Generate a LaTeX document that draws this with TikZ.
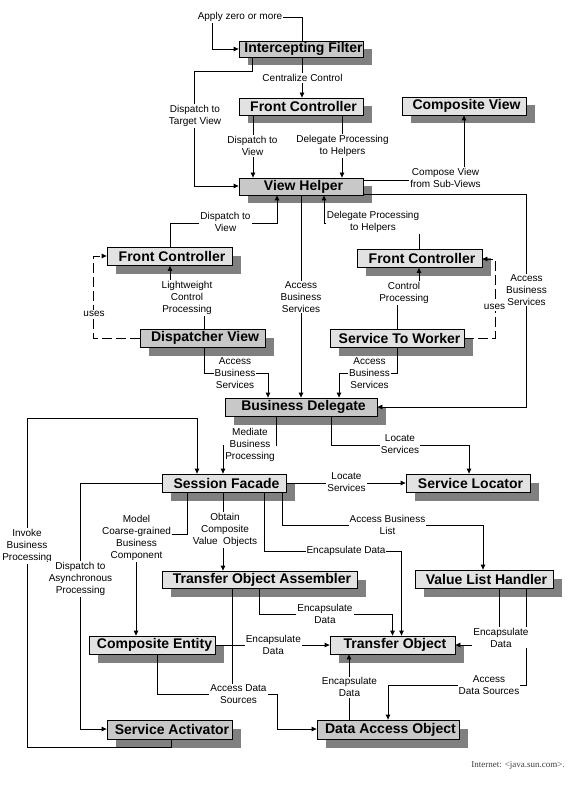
\documentclass[tikz,border=0pt]{standalone}
\usepackage{fontspec}
\setmainfont{Liberation Sans}
\newfontfamily\footfont{Liberation Serif}
\usetikzlibrary{shadows,arrows.meta}
\definecolor{boxlight}{HTML}{E2E2E2}
\definecolor{boxdark}{HTML}{C8C8C8}
\definecolor{shgray}{HTML}{808080}
\begin{document}
\begin{tikzpicture}[x=1pt,y=-1pt,
 pbox/.style={draw=black, line width=0.8pt, fill=boxlight, inner sep=0pt,
   font=\fontsize{14}{16}\selectfont\bfseries,
   drop shadow={shadow xshift=8.5pt,shadow yshift=-8.5pt,fill=shgray,opacity=1}},
 dbox/.style={pbox, fill=boxdark},
 conn/.style={line width=0.8pt, -{Triangle[length=5pt,width=4.5pt]}},
 plainline/.style={line width=0.8pt},
 usesline/.style={conn, dash pattern=on 10pt off 4pt},
 lbl/.style={fill=white, inner sep=1pt, align=center, font=\fontsize{10}{12}\selectfont}
]
\useasboundingbox (0,0) rectangle (586,791);
\fill[white] (0,0) rectangle (586,791);

% ---------- boxes ----------
\node[dbox, minimum width=124pt, minimum height=16pt] (IF)  at (301,49)    {\hspace*{5pt}Intercepting Filter};
\node[pbox, minimum width=124pt, minimum height=17pt] (FC1) at (301,106.5) {\hspace*{5pt}Front Controller};
\node[pbox, minimum width=124pt, minimum height=18pt] (CV)  at (464,106)   {\hspace*{5pt}Composite View};
\node[dbox, minimum width=124pt, minimum height=17pt] (VH)  at (301,186.5) {\hspace*{5pt}View Helper};
\node[pbox, minimum width=125pt, minimum height=18pt] (FC2) at (169.5,256.5) {\hspace*{5pt}Front Controller};
\node[dbox, minimum width=125pt, minimum height=18pt] (DV)  at (202.5,338) {\hspace*{5pt}Dispatcher View};
\node[pbox, minimum width=125pt, minimum height=18pt] (FC3) at (419.5,258.5) {\hspace*{5pt}Front Controller};
\node[pbox, minimum width=134pt, minimum height=18pt] (StW) at (397,338)   {\hspace*{5pt}Service To Worker};
\node[dbox, minimum width=152pt, minimum height=18pt] (BD)  at (301,407)   {\hspace*{5pt}Business Delegate};
\node[pbox, minimum width=124pt, minimum height=18pt] (SF)  at (224,483)   {\hspace*{5pt}Session Facade};
\node[pbox, minimum width=124pt, minimum height=18pt] (SL)  at (468,483)   {\hspace*{5pt}Service Locator};
\node[pbox, minimum width=195pt, minimum height=17pt] (TOA) at (259.5,579.5) {\hspace*{5pt}Transfer Object Assembler};
\node[pbox, minimum width=138pt, minimum height=18pt] (VLH) at (484,579)   {\hspace*{5pt}Value List Handler};
\node[pbox, minimum width=126pt, minimum height=18pt] (CE)  at (152,645)   {\hspace*{5pt}Composite Entity};
\node[pbox, minimum width=125pt, minimum height=18pt] (TO)  at (392.5,645) {\hspace*{5pt}Transfer Object};
\node[dbox, minimum width=125pt, minimum height=19pt] (SA)  at (169.5,729.5) {\hspace*{5pt}Service Activator};
\node[dbox, minimum width=142pt, minimum height=19pt] (DAO) at (388,729.5) {\hspace*{5pt}Data Access Object};

% ---------- connectors ----------
\draw[conn] (IF.north -| 302,0) -- (302,17) -- (212,17) -- (212,49) -- (IF.west);
\draw[conn] (IF.south -| 302,0) -- (FC1.north -| 302,0);
\draw[conn] (IF.south -| 252,0) -- (252,71) -- (194,71) -- (194,186) -- (VH.west |- 0,186);
\draw[conn] (FC1.south -| 253,0) -- (VH.north -| 253,0);
\draw[conn] (FC1.south -| 342,0) -- (VH.north -| 342,0);
\draw[conn] (VH.east |- 0,180) -- (464,180) -- (CV.south -| 464,0);
\draw[conn] (VH.east |- 0,194) -- (526,194) -- (526,407) -- (BD.east |- 0,407);
\draw[conn] (FC2.north -| 170,0) -- (170,223) -- (277,223) -- (VH.south -| 277,0);
\draw[conn] (DV.north -| 204,0) -- (204,298) -- (170,298) -- (FC2.south -| 170,0);
\draw[usesline] (DV.west |- 0,338) -- (93,338) -- (93,256) -- (FC2.west |- 0,256);
\draw[conn] (VH.south -| 301,0) -- (BD.north -| 301,0);
\draw[conn] (FC3.north -| 419,0) -- (419,223) -- (324,223) -- (VH.south -| 324,0);
\draw[conn] (StW.north -| 397,0) -- (397,293) -- (419,293) -- (FC3.south -| 419,0);
\draw[usesline] (StW.east |- 0,338) -- (495,338) -- (495,259) -- (FC3.east |- 0,259);
\draw[conn] (DV.south -| 204,0) -- (204,373) -- (268,373) -- (BD.north -| 268,0);
\draw[conn] (StW.south -| 397,0) -- (397,373) -- (339,373) -- (BD.north -| 339,0);
\draw[conn] (BD.south -| 276,0) -- (276,445) -- (223,445) -- (SF.north -| 223,0);
\draw[conn] (BD.south -| 331,0) -- (331,445) -- (469,445) -- (SL.north -| 469,0);
\draw[conn] (SA.south -| 171,0) -- (171,747) -- (27,747) -- (27,418) -- (197,418) -- (SF.north -| 197,0);
\draw[conn] (SF.east |- 0,483) -- (SL.west |- 0,483);
\draw[conn] (SF.south -| 282,0) -- (282,525) -- (483,525) -- (VLH.north -| 483,0);
\draw[conn] (SF.south -| 264,0) -- (264,551) -- (401.5,551) -- (TO.north -| 401.5,0);
\draw[conn] (TOA.south -| 259,0) -- (259,614) -- (392.5,614) -- (TO.north -| 392.5,0);
\draw[conn] (SF.south -| 187,0) -- (187,534) -- (136,534) -- (CE.north -| 136,0);
\draw[conn] (SF.south -| 223,0) -- (TOA.north -| 223,0);
\draw[conn] (SF.west |- 0,483) -- (80,483) -- (80,729) -- (SA.west |- 0,729);
\draw[conn] (CE.east |- 0,645) -- (TO.west |- 0,645);
\draw[conn] (CE.south -| 157,0) -- (157,694) -- (277,694) -- (277,729) -- (DAO.west |- 0,729);
\draw[plainline] (TOA.south -| 232,0) -- (232,694);
\draw[conn] (DAO.north -| 349,0) -- (TO.south -| 349,0);
\draw[conn] (VLH.south -| 499,0) -- (499,645) -- (TO.east |- 0,645);
\draw[conn] (VLH.south -| 526,0) -- (526,685) -- (388,685) -- (DAO.north -| 388,0);

% ---------- labels ----------
\node[lbl] (l1)  at (240,17)    {Apply zero or more};
\node[lbl] (l2)  at (302.5,78)  {Centralize Control};
\node[lbl] (l3)  at (195,116)   {Dispatch to\\Target View};
\node[lbl] (l4)  at (252.5,146) {Dispatch to\\View};
\node[lbl] (l5)  at (342.5,146) {Delegate Processing\\to Helpers};
\node[lbl] (l6)  at (445.5,177.5) {Compose View\\from Sub-Views};
\node[lbl] (l7)  at (526.5,290) {Access\\Business\\Services};
\node[lbl] (l8)  at (225.5,222) {Dispatch to\\View};
\node[lbl] (l9)  at (187,298)   {Lightweight\\Control\\Processing};
\node[lbl] (l10) at (94,314)    {uses};
\node[lbl] (l11) at (301,297)   {Access\\Business\\Services};
\node[lbl] (l12) at (373,222.3) {Delegate Processing\\to Helpers};
\node[lbl] (l13) at (404,293)   {Control\\Processing};
\node[lbl] (l14) at (494.5,307) {uses};
\node[lbl] (l15) at (235,373.5) {Access\\Business\\Services};
\node[lbl] (l16) at (369.5,373.5) {Access\\Business\\Services};
\node[lbl] (l17) at (250,444.6) {Mediate\\Business\\Processing};
\node[lbl] (l18) at (400,444.2) {Locate\\Services};
\node[lbl] (l19) at (27,546)    {Invoke\\Business\\Processing};
\node[lbl] (l20) at (346.5,482.2) {Locate\\Services};
\node[lbl] (l21) at (387.5,524.5) {Access Business\\List};
\node[lbl] (l22) at (346,551)   {Encapsulate Data};
\node[lbl] (l23) at (325,613.5) {Encapsulate\\Data};
\node[lbl] (l24) at (136.5,538.3) {Model\\Coarse-grained\\Business\\Component};
\node[lbl] (l25) at (225,530)   {Obtain\\Composite\\Value~ Objects};
\node[lbl] (l26) at (80.5,579)  {Dispatch to\\Asynchronous\\Processing};
\node[lbl] (l27) at (273.3,644.7) {Encapsulate\\Data};
\node[lbl] (l28) at (238.5,694) {Access Data\\Sources};
\node[lbl] (l29) at (349.5,687.2) {Encapsulate\\Data};
\node[lbl] (l30) at (501,637.5) {Encapsulate\\Data};
\node[lbl] (l31) at (489,684.7) {Access\\Data Sources};

\node[font=\footfont\fontsize{9}{11}\selectfont, text=black!75, inner sep=0pt] (foot) at (518,765) {Internet: <java.sun.com>.};
\end{tikzpicture}
\end{document}
